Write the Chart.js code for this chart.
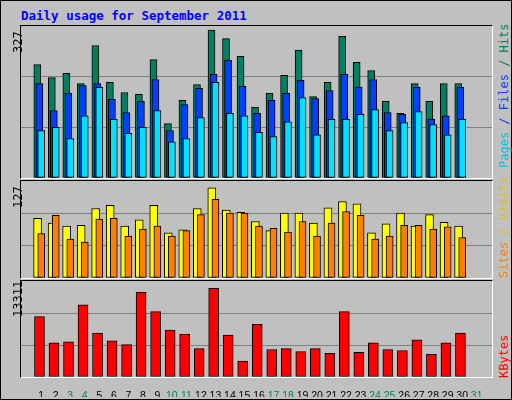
<!DOCTYPE html>
<html lang="en">
<head>
<meta charset="UTF-8">
<title>Daily usage for September 2011</title>
<script src="https://cdn.jsdelivr.net/npm/chart.js"></script>
<style>
  body { margin: 0; background: #fff; }
  #wrap { position: relative; width: 510px; height: 398px; background: #c0c0c0; border: 1px solid #000; overflow: hidden; }
  #title { position: absolute; left: 20px; top: 7px; font: bold 12.5px "DejaVu Sans Mono", monospace; color: #0000ff; }
  .panel { position: absolute; left: 20px; }
  .frame { position: absolute; left: 19px; width: 471px; border-top: 1px solid #000; border-left: 1px solid #000; border-right: 1px solid #fff; border-bottom: 1px solid #fff; pointer-events: none; }
  .vl { position: absolute; transform-origin: left top; transform: rotate(-90deg); white-space: nowrap; font: 12px "DejaVu Sans Mono", monospace; }
</style>
</head>
<body>
<div id="wrap">
  <div id="title">Daily usage for September 2011</div>
  <div class="frame" style="top:24px;height:152px"></div>
  <div class="frame" style="top:179px;height:97px"></div>
  <div class="frame" style="top:279px;height:96px"></div>
  <canvas class="panel" id="c1" style="top:25px" width="471" height="152"></canvas>
  <canvas class="panel" id="c2" style="top:180px" width="471" height="97"></canvas>
  <canvas class="panel" id="c3" style="top:280px" width="471" height="116"></canvas>
  <div class="vl" style="left:10px;top:52px;color:#000">327</div>
  <div class="vl" style="left:10px;top:207px;color:#000">127</div>
  <div class="vl" style="left:10px;top:316px;color:#000">13311</div>
  <div class="vl" style="left:496px;top:167px"><span style="color:#00c0e0">Pages</span><span style="color:#0040ff"> / Files</span><span style="color:#008060"> / Hits</span></div>
  <div class="vl" style="left:496px;top:277px"><span style="color:#ff8000">Sites</span><span style="color:#e0c000"> / Visits</span></div>
  <div class="vl" style="left:496px;top:377px;color:#ff0000">KBytes</div>
</div>
<script>
const days = Array.from({length: 31}, (_, i) => i + 1);
const weekends = [3, 4, 10, 11, 17, 18, 24, 25, 31];

const hits  = [244,216,225,203,285,206,184,180,255,117,167,201,318,300,262,152,182,221,275,175,206,305,249,231,165,139,203,165,203,203,0];
const files = [203,145,182,199,203,169,141,165,212,102,158,193,223,253,197,139,167,182,210,171,188,223,195,212,141,137,195,126,134,195,0];
const pages = [102,109,85,134,195,126,96,109,145,78,85,130,206,139,134,98,89,121,173,93,126,126,137,147,102,119,143,115,93,126,0];

const sites  = [78,72,68,69,91,95,68,76,95,59,63,91,118,89,86,74,62,85,85,72,92,100,97,59,71,85,68,83,73,68,0];
const visits = [58,82,51,47,77,78,55,64,68,55,62,83,103,85,85,68,65,60,74,55,72,87,82,51,55,69,69,64,67,53,0];

const kbytes = [8381,4751,4885,9995,6096,5020,4482,11743,9054,6499,5961,3944,12281,5827,2196,7306,3810,3944,3541,3944,3272,9054,3406,4751,3810,3675,5154,3137,4751,6096,0];

const maxes = [327, 127, 13311];

function series(values, shift, color, width, order) {
  return {
    data: values.map((v, i) => ({x: days[i] + shift, y: v})),
    backgroundColor: color,
    borderColor: '#000',
    borderWidth: 1,
    borderSkipped: false,
    barThickness: width,
    grouped: false,
    order: order
  };
}

function panel(id, datasets, max, showDays) {
  new Chart(document.getElementById(id), {
    type: 'bar',
    data: { datasets: datasets },
    options: {
      responsive: false,
      animation: false,
      layout: { padding: 0 },
      plugins: { legend: { display: false }, tooltip: { enabled: false } },
      scales: {
        x: {
          type: 'linear', min: 0.13, max: 31.53,
          display: showDays,
          grid: { display: false },
          border: { display: false },
          afterBuildTicks: s => { s.ticks = days.map(d => ({value: d})); },
          afterFit: s => { if (showDays) s.height = 20; },
          ticks: {
            autoSkip: false, maxRotation: 0, padding: 5,
            font: { family: 'Liberation Sans', size: 10.5 },
            color: ctx => weekends.includes(ctx.tick.value) ? '#008060' : '#000',
            callback: v => v
          }
        },
        y: {
          min: 0, max: max,
          afterFit: s => { s.width = 0; },
          ticks: { display: false, stepSize: max / 3 },
          border: { display: false },
          grid: {
            drawTicks: false,
            color: ctx => (ctx.index === 1 || ctx.index === 2) ? '#808080' : 'rgba(0,0,0,0)'
          }
        }
      }
    }
  });
}

panel('c1', [
  series(hits, -0.27, '#008060', 7, 3),
  series(files, -0.13, '#0040ff', 7, 2),
  series(pages, 0, '#00e0ff', 7, 1)
], maxes[0], false);

panel('c2', [
  series(sites, -0.25, '#ffff00', 8, 2),
  series(visits, 0, '#ff8000', 7, 1)
], maxes[1], false);

panel('c3', [
  series(kbytes, -0.12, '#ff0000', 10, 1)
], maxes[2], true);
</script>
</body>
</html>
